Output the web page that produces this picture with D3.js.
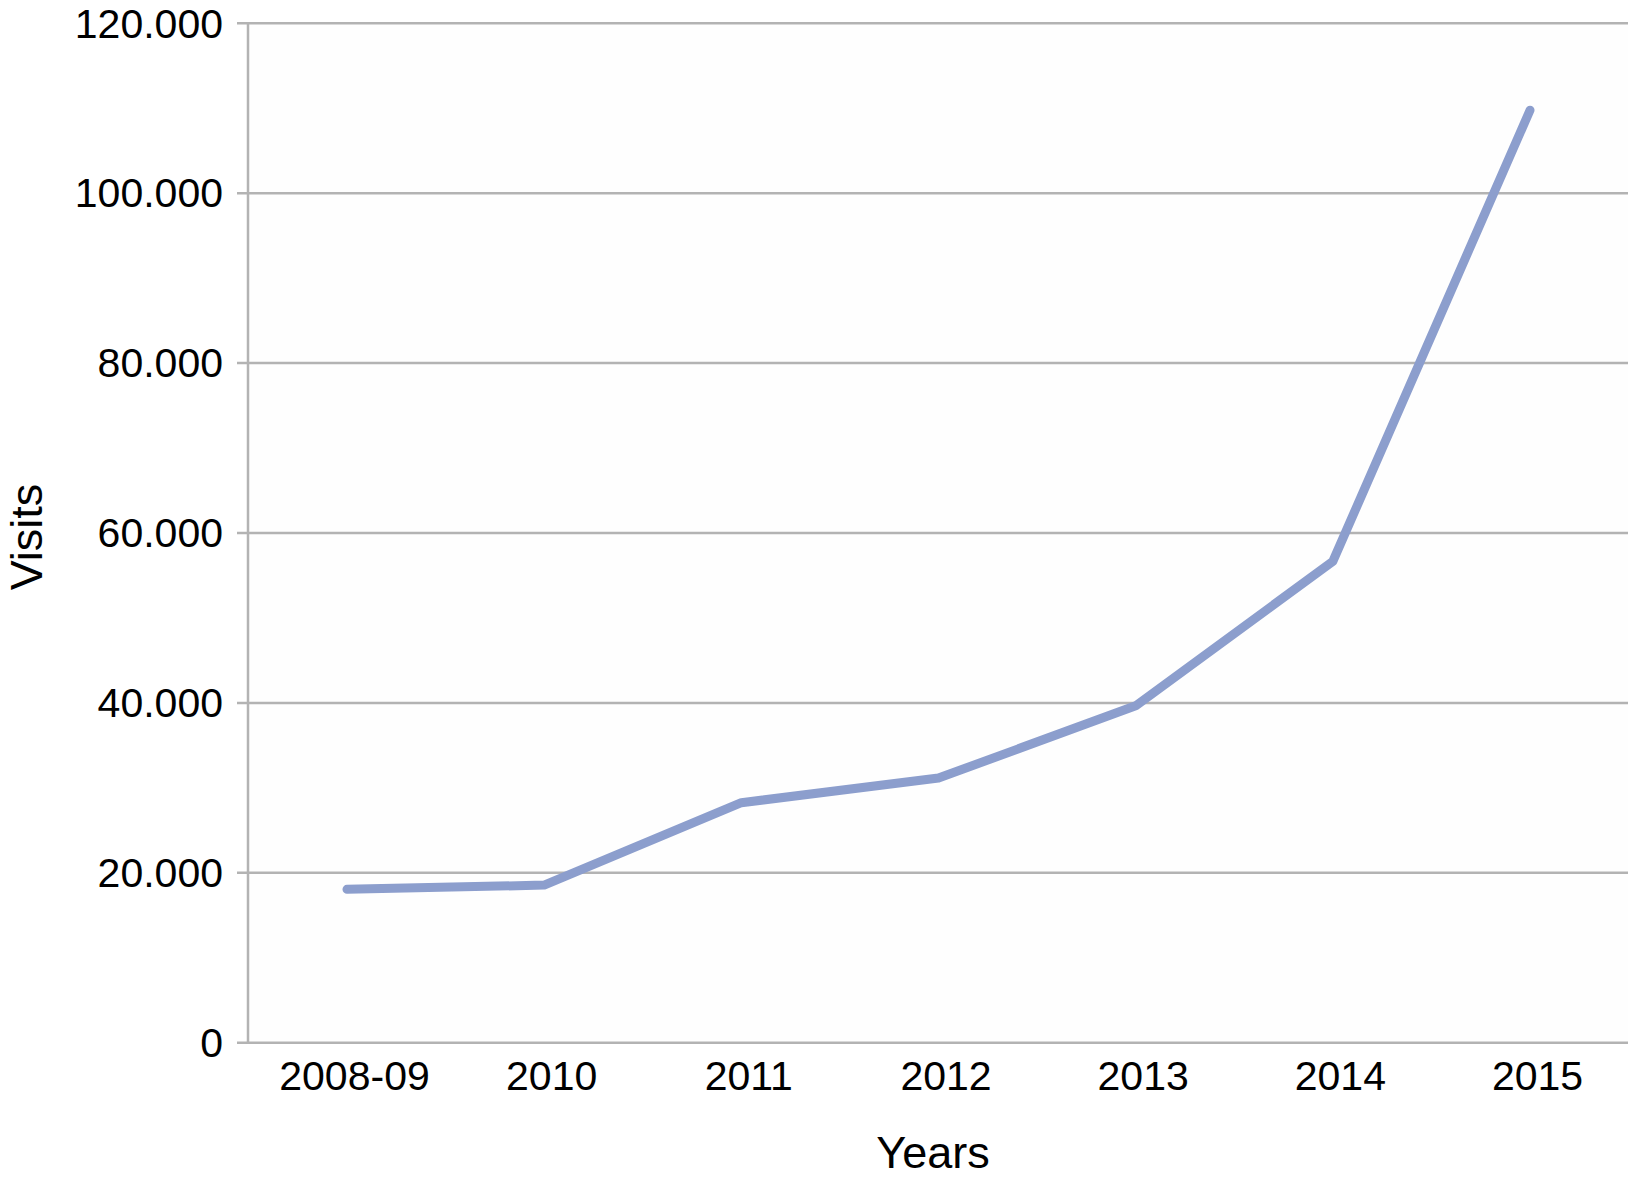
<!DOCTYPE html>
<html>
<head>
<meta charset="utf-8">
<script src="https://cdn.jsdelivr.net/npm/d3@7"></script>
<style>
  html, body { margin: 0; padding: 0; background: #ffffff; }
  svg { display: block; }
  text { font-family: "Liberation Sans", Arial, Helvetica, sans-serif; fill: #000; }
</style>
</head>
<body>
<svg id="chart" width="1633" height="1179"></svg>
<script>
const categories = ["2008-09", "2010", "2011", "2012", "2013", "2014", "2015"];
const visits = [18000, 18500, 28200, 31100, 39600, 56600, 109700];
const yTicks = [0, 20000, 40000, 60000, 80000, 100000, 120000];
const yTickLabels = ["0", "20.000", "40.000", "60.000", "80.000", "100.000", "120.000"];
const xTitle = "Years";
const yTitle = "Visits";

const svg = d3.select("#chart");
const plot = { left: 248, right: 1628, top: 22.7, bottom: 1042.3 };

const y = d3.scaleLinear().domain([0, 120000]).range([plot.bottom, plot.top]);
const x = d3.scalePoint().domain(categories).range([347, 1530]);

// plot background
svg.append("rect")
  .attr("x", plot.left).attr("y", plot.top)
  .attr("width", plot.right - plot.left).attr("height", plot.bottom - plot.top)
  .attr("fill", "#fefefe");

// gridlines + y ticks
const yAxis = d3.axisLeft(y)
  .tickValues(yTicks)
  .tickSize(-(plot.right - plot.left))
  .tickPadding(14)
  .tickFormat((d, i) => yTickLabels[i]);

const gy = svg.append("g")
  .attr("transform", `translate(${plot.left},0)`)
  .call(yAxis);
gy.select(".domain").remove();
gy.selectAll(".tick line")
  .attr("x1", -11)
  .attr("stroke", "#b3b3b3")
  .attr("stroke-width", 2.5);
gy.selectAll(".tick text")
  .attr("x", -25)
  .attr("dy", "0.35em")
  .style("font-size", "41px")
  .style("font-family", "'Liberation Sans', Arial, sans-serif")
  .attr("fill", "#000");

// vertical y axis line
svg.append("line")
  .attr("x1", plot.left).attr("x2", plot.left)
  .attr("y1", plot.top).attr("y2", plot.bottom + 1)
  .attr("stroke", "#b3b3b3").attr("stroke-width", 2.5);

// x axis labels
const xAxis = d3.axisBottom(x).tickSize(0).tickPadding(0);
const gx = svg.append("g")
  .attr("transform", `translate(0,${plot.bottom})`)
  .call(xAxis);
gx.select(".domain").remove();
gx.selectAll(".tick text")
  .attr("x", 7)
  .attr("y", 48)
  .attr("dy", 0)
  .style("font-size", "41px")
  .style("font-family", "'Liberation Sans', Arial, sans-serif")
  .attr("fill", "#000");

// data line
const line = d3.line()
  .x((d, i) => x(categories[i]))
  .y(d => y(d));

svg.append("path")
  .datum(visits)
  .attr("d", line)
  .attr("fill", "none")
  .attr("stroke", "#8c9ecd")
  .attr("stroke-width", 9)
  .attr("stroke-linecap", "round")
  .attr("stroke-linejoin", "round");

// axis titles
svg.append("text")
  .attr("x", 933).attr("y", 1168)
  .attr("text-anchor", "middle")
  .style("font-size", "45px")
  .text(xTitle);

svg.append("text")
  .attr("transform", "translate(42,537) rotate(-90)")
  .attr("text-anchor", "middle")
  .style("font-size", "45px")
  .text(yTitle);
</script>
</body>
</html>
